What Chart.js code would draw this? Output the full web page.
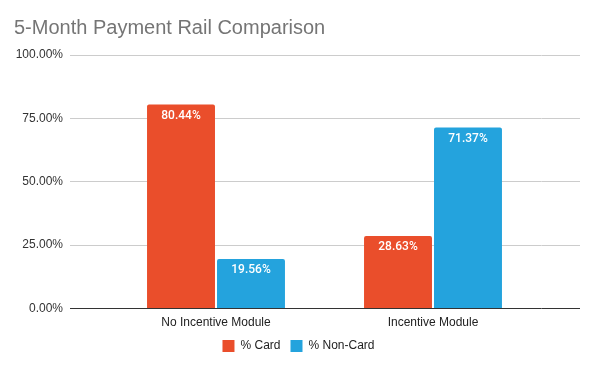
<!DOCTYPE html>
<html>
<head>
<meta charset="utf-8">
<script src="https://cdn.jsdelivr.net/npm/chart.js@4"></script>
<style>
html,body{margin:0;padding:0;background:#fff;}
#wrap{width:597px;height:369px;position:relative;}
</style>
</head>
<body>
<div id="wrap"><canvas id="c" width="597" height="369"></canvas></div>
<script>
const chartTitle = "5-Month Payment Rail Comparison";
const categories = ["No Incentive Module", "Incentive Module"];
const seriesNames = ["% Card", "% Non-Card"];
const cardValues = [80.44, 28.63];
const nonCardValues = [19.56, 71.37];
const yTicks = [0, 25, 50, 75, 100];
const colors = ["#EA4E2B", "#24A3DD"];

const FONT = "'Liberation Sans', Arial, sans-serif";
const gridColor = v => v === 0 ? '#333333' : '#cccccc';

const dataLabelPlugin = {
  id: 'dataLabels',
  afterDatasetsDraw(chart) {
    const ctx = chart.ctx;
    ctx.save();
    ctx.fillStyle = '#ffffff';
    ctx.font = "500 12px Roboto, 'Liberation Sans', sans-serif";
    ctx.textAlign = 'center';
    ctx.textBaseline = 'middle';
    chart.data.datasets.forEach((ds, di) => {
      const meta = chart.getDatasetMeta(di);
      meta.data.forEach((bar, i) => {
        ctx.fillText(ds.data[i].toFixed(2) + '%', bar.x, bar.y + 11.5);
      });
    });
    ctx.restore();
  }
};

// extends the horizontal gridlines to the right of the category area
const gridExtendPlugin = {
  id: 'gridExtend',
  beforeDatasetsDraw(chart) {
    const ctx = chart.ctx, y = chart.scales.y, a = chart.chartArea;
    ctx.save();
    ctx.lineWidth = 1;
    yTicks.forEach(v => {
      const py = Math.round(y.getPixelForValue(v) - 0.5) + 0.5;
      ctx.strokeStyle = gridColor(v);
      ctx.beginPath();
      ctx.moveTo(a.right, py);
      ctx.lineTo(a.right + 38.5, py);
      ctx.stroke();
    });
    ctx.restore();
  }
};

new Chart(document.getElementById('c'), {
  type: 'bar',
  data: {
    labels: categories,
    datasets: [
      { label: seriesNames[0], data: cardValues, backgroundColor: colors[0], borderRadius: {topLeft: 2, topRight: 2}, borderSkipped: 'bottom' },
      { label: seriesNames[1], data: nonCardValues, backgroundColor: colors[1], borderRadius: {topLeft: 2, topRight: 2}, borderSkipped: 'bottom' }
    ]
  },
  plugins: [gridExtendPlugin, dataLabelPlugin],
  options: {
    responsive: false,
    animation: false,
    devicePixelRatio: 1,
    layout: { padding: { left: 14, right: 14, top: 0, bottom: 7 } },
    datasets: { bar: { categoryPercentage: 0.645, barPercentage: 0.971 } },
    plugins: {
      title: {
        display: true, text: chartTitle, align: 'start', color: '#757575',
        font: { family: FONT, size: 20, weight: 'normal' },
        padding: { top: 16, bottom: 15 }
      },
      legend: {
        position: 'bottom',
        labels: {
          boxWidth: 12, boxHeight: 12, color: '#222', padding: 10,
          font: { family: FONT, size: 12 }
        }
      },
      tooltip: { enabled: false }
    },
    scales: {
      x: {
        afterFit(scale) { scale.height = 21.5; },
        grid: { display: false, drawTicks: false },
        border: { display: false },
        ticks: { color: '#222', font: { family: FONT, size: 12 }, padding: 7 }
      },
      y: {
        position: 'left',
        min: 0, max: 100,
        afterBuildTicks(scale) { scale.ticks = yTicks.map(v => ({ value: v })); },
        afterFit(scale) { scale.width = 93.5; },
        grid: {
          color: ctx => gridColor(ctx.tick ? ctx.tick.value : null),
          tickLength: 37.5, lineWidth: 1
        },
        border: { display: false },
        ticks: {
          color: '#333', padding: 7, font: { family: FONT, size: 12 },
          callback: v => Number(v).toFixed(2) + '%'
        }
      },
      y2: {
        position: 'right',
        display: true,
        min: 0, max: 100,
        afterFit(scale) { scale.width = 41.5; },
        grid: { display: false },
        border: { display: false },
        ticks: { display: false }
      }
    }
  }
});
</script>
</body>
</html>
